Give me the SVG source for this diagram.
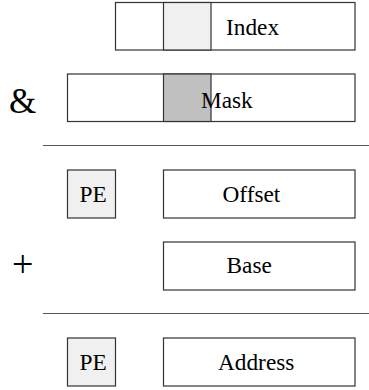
<svg xmlns="http://www.w3.org/2000/svg" width="369" height="390" viewBox="0 0 369 390">
<style>
.b{fill:#fff;stroke:#333;stroke-width:1.2}
.g1{fill:#f0f0f0}
.g2{fill:#c0c0c0}
.l{stroke:#555;stroke-width:1.2}
text{font-family:"Times New Roman","Liberation Serif","DejaVu Serif",serif;font-size:23.3px;fill:#000}
</style>
<rect width="369" height="390" fill="#fff"/>
<g id="index">
<rect class="b" x="115.5" y="2.5" width="239.5" height="47.5"/>
<rect class="b g1" x="163.5" y="2.5" width="47.5" height="47.5"/>
<text x="226" y="35">Index</text>
</g>
<g id="mask">
<rect class="b" x="67.5" y="74" width="287.5" height="47.5"/>
<rect class="b g2" x="163.5" y="74" width="47.5" height="47.5"/>
<text x="201" y="107.7">Mask</text>
</g>
<text id="amp" x="9" y="113" style="font-size:35px">&amp;</text>
<g id="lines">
<line class="l" x1="43" y1="145.5" x2="369" y2="145.5"/>
<line class="l" x1="43" y1="313.5" x2="369" y2="313.5"/>
</g>
<g id="pe1">
<rect class="b g1" x="67.5" y="170" width="48" height="48"/>
<text x="79.5" y="201.7">PE</text>
</g>
<g id="offset">
<rect class="b" x="163.5" y="170" width="191.5" height="48"/>
<text x="222.5" y="201.7">Offset</text>
</g>
<text id="plus" x="12" y="277" style="font-size:38px">+</text>
<g id="base">
<rect class="b" x="163.5" y="242" width="191.5" height="48"/>
<text x="226.5" y="273.3">Base</text>
</g>
<g id="pe2">
<rect class="b g1" x="67.5" y="338" width="48" height="48"/>
<text x="79.5" y="370">PE</text>
</g>
<g id="address">
<rect class="b" x="163.5" y="338" width="191.5" height="48"/>
<text x="218" y="370">Address</text>
</g>
</svg>
